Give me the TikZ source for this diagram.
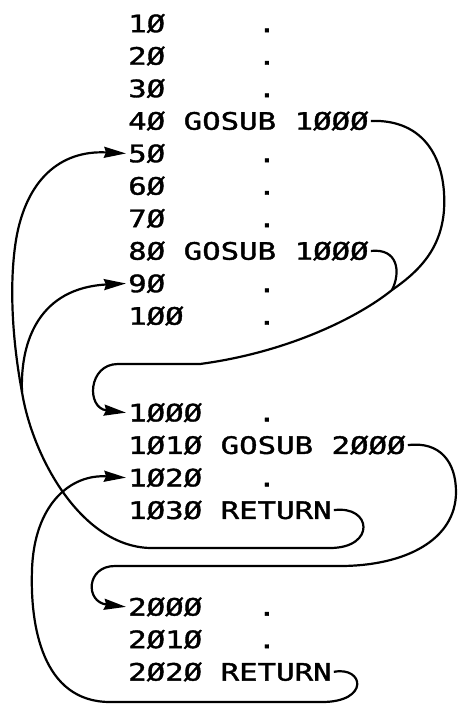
\documentclass[tikz,border=0pt]{standalone}
\usepackage{fontspec}
\usepackage{tikz}
\usetikzlibrary{arrows.meta, positioning}

\newfontfamily\listingfont[FakeStretch=1.28, FakeBold=1.5]{DejaVu Sans Mono}

\tikzset{
  stmt/.style={inner sep=2pt, text height=17.5pt, text depth=0pt,
    font=\listingfont\fontsize{24}{24}\selectfont},
  wire/.style={line width=2.2pt},
  flow/.style={wire, -{Stealth[length=22pt, width=11pt, inset=2pt]}},
}

\begin{document}
\begin{tikzpicture}[x=1pt, y=-1pt]
\useasboundingbox (0,0) rectangle (458,704);

% main program
\node[stmt, anchor=north west] (l10) at (126,12.5) {1Ø~~~~~.};
\node[stmt, below=10.6pt of l10.south west, anchor=north west] (l20) {2Ø~~~~~.};
\node[stmt, below=10.6pt of l20.south west, anchor=north west] (l30) {3Ø~~~~~.};
\node[stmt, below=10.6pt of l30.south west, anchor=north west] (l40) {4Ø GOSUB 1ØØØ};
\node[stmt, below=10.6pt of l40.south west, anchor=north west] (l50) {5Ø~~~~~.};
\node[stmt, below=10.6pt of l50.south west, anchor=north west] (l60) {6Ø~~~~~.};
\node[stmt, below=10.6pt of l60.south west, anchor=north west] (l70) {7Ø~~~~~.};
\node[stmt, below=10.6pt of l70.south west, anchor=north west] (l80) {8Ø GOSUB 1ØØØ};
\node[stmt, below=10.6pt of l80.south west, anchor=north west] (l90) {9Ø~~~~~.};
\node[stmt, below=10.6pt of l90.south west, anchor=north west] (l100) {1ØØ~~~~.};

% first subroutine
\node[stmt, below=74.8pt of l100.south west, anchor=north west] (l1000) {1ØØØ~~~.};
\node[stmt, below=10.6pt of l1000.south west, anchor=north west] (l1010) {1Ø1Ø GOSUB 2ØØØ};
\node[stmt, below=10.6pt of l1010.south west, anchor=north west] (l1020) {1Ø2Ø~~~.};
\node[stmt, below=10.6pt of l1020.south west, anchor=north west] (l1030) {1Ø3Ø RETURN};

% second subroutine
\node[stmt, below=74.8pt of l1030.south west, anchor=north west] (l2000) {2ØØØ~~~.};
\node[stmt, below=10.6pt of l2000.south west, anchor=north west] (l2010) {2Ø1Ø~~~.};
\node[stmt, below=10.6pt of l2010.south west, anchor=north west] (l2020) {2Ø2Ø RETURN};

\coordinate (join) at (392,290);
\coordinate (split) at (22,392);

% calls into 1000
\draw[flow] (l40.east) .. controls (425,119) and (447,160) .. (444,210)
  .. controls (441,250) and (418,272) .. (join)
  .. controls (360,316) and (290,352) .. (200,364)
  -- (118,364) .. controls (88,364) and (86,408) .. (l1000.west);
\draw[wire] (l80.east) .. controls (398,248) and (401,272) .. (join);

% returns from 1030
\draw[wire] (l1030.east) .. controls (372,505) and (376,548) .. (330,548)
  -- (150,548) .. controls (80,546) and (32,455) .. (split);
\draw[flow] (split) .. controls (14,350) and (8,290) .. (16,240)
  .. controls (26,180) and (60,150) .. (l50.west);
\draw[flow] (split) .. controls (20,340) and (40,288) .. (l90.west);

% call into 2000 and its return
\draw[flow] (l1010.east) .. controls (440,441) and (456,462) .. (456,492)
  .. controls (456,540) and (405,566) .. (340,566)
  -- (115,566) .. controls (86,566) and (85,602) .. (l2000.west);
\draw[flow] (l2020.east) .. controls (364,666) and (370,702) .. (322,702)
  -- (110,702) .. controls (42,702) and (30,625) .. (32,570)
  .. controls (34,505) and (70,474) .. (l1020.west);
\end{tikzpicture}
\end{document}
